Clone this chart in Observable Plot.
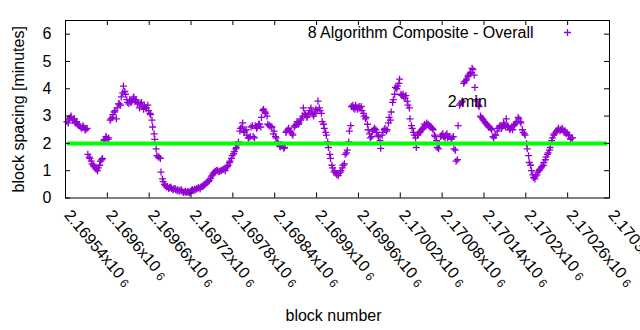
<!DOCTYPE html>
<html><head><meta charset="utf-8">
<script src="https://cdn.jsdelivr.net/npm/d3@7"></script>
<script src="https://cdn.jsdelivr.net/npm/@observablehq/plot@0.6"></script>
<style>
body{margin:0;background:#fff}
svg{font-family:"Liberation Sans",Arial,sans-serif}
</style>
</head><body><div id="chart"></div>
<script>
// ---- data ----
// block spacing, two interleaved readings of the point band
const blockStart = 2169542;
const blockStep = 3;
const spacingA = [
  2.8, 2.9, 3.0, 2.85, 2.75, 2.7, 2.65, 2.55, 2.6, 2.5,
  1.6, 1.45, 1.25, 1.15, 1.05, 1.1, 1.35, 1.45, 2.15, 2.2,
  2.2, 2.9, 3.05, 3.2, 3.3, 3.45, 3.7, 4.1, 3.8, 3.5,
  3.6, 3.55, 3.7, 3.6, 3.5, 3.45, 3.35, 3.4, 3.3, 3.2,
  3.05, 2.6, 2.15, 1.55, 1.5, 0.95, 0.6, 0.45, 0.42, 0.38,
  0.35, 0.33, 0.3, 0.3, 0.28, 0.25, 0.22, 0.2, 0.22, 0.25,
  0.3, 0.32, 0.35, 0.38, 0.4, 0.45, 0.5, 0.58, 0.65, 0.8,
  0.92, 0.98, 1.0, 0.98, 1.02, 1.05, 1.1, 1.2, 1.35, 1.55,
  1.7, 1.85, 2.05, 2.55, 2.75, 2.45, 2.3, 2.2, 2.6, 2.25,
  2.65, 2.6, 2.7, 2.95, 3.25, 3.1, 2.7, 2.65, 2.6, 2.45,
  2.2, 2.0, 1.88, 1.9, 1.85, 2.45, 2.55, 2.4, 2.3, 2.65,
  2.8, 2.75, 2.9, 3.3, 3.05, 3.0, 3.2, 3.15, 3.0, 3.25,
  3.55, 3.2, 2.8, 2.55, 2.3, 1.85, 1.45, 1.1, 1.0, 0.85,
  0.9, 1.0, 1.2, 1.6, 1.75, 2.45, 3.35, 3.3, 3.4, 3.25,
  3.3, 3.2, 3.0, 2.95, 2.5, 2.2, 2.45, 2.55, 2.4, 2.25,
  1.82, 2.4, 2.55, 2.5, 2.95, 3.15, 3.6, 4.05, 4.1, 4.35,
  3.75, 3.7, 3.75, 3.4, 2.9, 2.55, 2.3, 1.85, 2.35, 2.45,
  2.55, 2.7, 2.75, 2.65, 2.6, 2.5, 2.25, 1.85, 2.0, 2.3,
  2.25, 2.3, 2.2, 2.25, 2.2, 1.8, 1.35, 2.65, 3.45, 3.55,
  4.25, 4.35, 4.5, 4.6, 4.7, 4.05, 3.55, 3.35, 2.95, 2.85,
  2.75, 2.65, 2.6, 2.5, 2.2, 2.3, 2.55, 2.65, 2.6, 2.7,
  2.9, 2.6, 2.55, 2.5, 2.7, 2.8, 2.9, 2.75, 2.4, 2.3,
  1.8, 1.3, 1.0, 0.75, 0.8, 0.95, 1.05, 1.15, 1.3, 1.5,
  1.65, 1.85, 2.2, 2.35, 2.45, 2.55, 2.5, 2.5, 2.45, 2.4,
  2.3, 2.2
];
const spacingB = [
  2.75, 2.95, 2.85, 2.9, 2.8, 2.65, 2.6, 2.65, 2.5, 2.55,
  1.5, 1.35, 1.2, 1.1, 1.0, 1.2, 1.4, 2.1, 2.25, 2.15,
  2.85, 2.95, 3.15, 2.9, 3.45, 3.4, 3.85, 3.9, 3.6, 3.45,
  3.5, 3.65, 3.55, 3.45, 3.3, 3.5, 3.25, 3.3, 3.4, 3.1,
  2.85, 2.35, 1.8, 1.5, 1.45, 0.7, 0.5, 0.4, 0.35, 0.4,
  0.3, 0.35, 0.27, 0.25, 0.3, 0.2, 0.25, 0.23, 0.18, 0.28,
  0.27, 0.3, 0.36, 0.33, 0.42, 0.48, 0.55, 0.6, 0.72, 0.85,
  0.95, 1.02, 0.96, 1.0, 1.05, 1.0, 1.15, 1.3, 1.45, 1.62,
  1.8, 1.95, 2.45, 2.6, 2.4, 2.5, 2.2, 2.25, 2.65, 2.2,
  2.55, 2.7, 2.6, 3.2, 3.15, 3.0, 2.65, 2.6, 2.35, 2.25,
  2.05, 1.9, 1.95, 1.82, 2.4, 2.5, 2.45, 2.35, 2.6, 2.7,
  2.7, 2.85, 3.0, 3.1, 2.95, 3.1, 3.3, 3.05, 3.1, 3.2,
  3.3, 3.1, 2.7, 2.4, 2.05, 1.6, 1.2, 0.95, 0.9, 0.82,
  0.95, 1.1, 1.25, 1.65, 2.05, 2.65, 3.4, 3.25, 3.3, 3.35,
  3.35, 3.1, 2.9, 2.7, 2.35, 2.25, 2.5, 2.5, 2.3, 2.1,
  2.3, 2.5, 2.45, 2.75, 2.85, 3.5, 3.8, 4.0, 4.2, 3.8,
  3.8, 3.65, 3.55, 3.3, 2.65, 2.4, 2.2, 2.3, 2.4, 2.5,
  2.6, 2.65, 2.7, 2.6, 2.55, 2.3, 2.1, 1.8, 2.25, 2.35,
  2.2, 2.35, 2.25, 2.15, 2.25, 1.75, 1.4, 3.4, 3.5, 4.2,
  4.3, 4.45, 4.55, 4.75, 4.5, 3.6, 3.4, 3.0, 2.9, 2.8,
  2.7, 2.6, 2.55, 2.25, 2.3, 2.45, 2.6, 2.55, 2.75, 2.6,
  2.65, 2.5, 2.6, 2.65, 2.75, 2.95, 2.8, 2.5, 2.35, 2.0,
  1.55, 1.2, 0.85, 0.7, 0.85, 1.0, 1.1, 1.2, 1.4, 1.6,
  1.75, 2.1, 2.3, 2.4, 2.5, 2.45, 2.55, 2.4, 2.35, 2.3,
  2.15, 2.2
];
const bandOffsetB = 2;
const xTicks = [2169540, 2169600, 2169660, 2169720, 2169780, 2169840, 2169900,
  2169960, 2170020, 2170080, 2170140, 2170200, 2170260, 2170320];
const xTickLabels = ["2.16954", "2.1696", "2.16966", "2.16972", "2.16978", "2.16984", "2.1699",
  "2.16996", "2.17002", "2.17008", "2.17014", "2.1702", "2.17026", "2.17032"];
const xTickExponent = "6";
const yTicks = [0, 1, 2, 3, 4, 5, 6];
const yMax = 6.5;
const targetSpacing = 2;
const targetLabel = "2 min";
const targetLabelBlock = 2170088;
const targetLabelValue = 3.53;
const seriesName = "8 Algorithm Composite - Overall";
const xTitle = "block number";
const yTitle = "block spacing [minutes]";

// ---- build ----
const rows = [];
spacingA.forEach((v, i) => rows.push({block: blockStart + i * blockStep, spacing: v}));
spacingB.forEach((v, i) => rows.push({block: blockStart + bandOffsetB + i * blockStep, spacing: v}));
rows.sort((a, b) => a.block - b.block);

const plusSym = {draw(ctx, size) { const h = Math.sqrt(size / Math.PI);
  ctx.moveTo(-h, 0); ctx.lineTo(h, 0); ctx.moveTo(0, -h); ctx.lineTo(0, h); }};
const purple = "#9400d3";
const W = 640, H = 330, mL = 65, mR = 31, mT = 20, mB = 132.5;
const fw = W - mL - mR, fh = H - mT - mB, tl = 5;

const chart = Plot.plot({
  width: W, height: H,
  marginLeft: mL, marginRight: mR, marginTop: mT, marginBottom: mB,
  style: {fontFamily: '"Liberation Sans", Arial, sans-serif', fontSize: "16px", background: "white", color: "black", overflow: "visible"},
  x: {domain: [xTicks[0], xTicks[xTicks.length - 1]], axis: null},
  y: {domain: [0, yMax], axis: null},
  marks: [
    Plot.dot(rows, {x: "block", y: "spacing", symbol: plusSym, r: 3.5, stroke: purple, strokeWidth: 1.3, fill: "none"}),
    Plot.ruleY([targetSpacing], {stroke: "#00ff00", strokeWidth: 4, insetLeft: 2, insetRight: 2}),
    Plot.frame({stroke: "black", strokeWidth: 1}),
    Plot.tickX(xTicks, {x: d => d, insetTop: fh - tl, stroke: "black"}),
    Plot.tickX(xTicks, {x: d => d, insetBottom: fh - tl, stroke: "black"}),
    Plot.tickY(yTicks, {y: d => d, insetRight: fw - tl, stroke: "black"}),
    Plot.tickY(yTicks, {y: d => d, insetLeft: fw - tl, stroke: "black"}),
    Plot.text(yTicks, {y: d => d, text: d => String(d), frameAnchor: "left", dx: -14, textAnchor: "end", fontSize: 16, fill: "black"}),
    Plot.text(xTicks, {x: d => d, text: (d, i) => xTickLabels[i] + "x10", frameAnchor: "bottom", rotate: 50, textAnchor: "start", lineAnchor: "bottom", dy: 17.5, dx: -2, fontSize: 16, fill: "black"}),
    Plot.text([xTitle], {frameAnchor: "bottom", dy: 117.5, dx: -4, textAnchor: "middle", lineAnchor: "middle", fontSize: 16, fill: "black"}),
    Plot.text([yTitle], {frameAnchor: "left", rotate: -90, dx: -47, textAnchor: "middle", lineAnchor: "middle", fontSize: 16, fill: "black"}),
    Plot.text([seriesName], {frameAnchor: "top-right", dx: -76, dy: 12, textAnchor: "end", lineAnchor: "middle", fontSize: 16, fill: "black"}),
    Plot.dot([seriesName], {frameAnchor: "top-right", dx: -42, dy: 12, symbol: plusSym, r: 3.5, stroke: purple, strokeWidth: 1.3, fill: "none"}),
    Plot.text([targetLabel], {x: () => targetLabelBlock, y: () => targetLabelValue, textAnchor: "start", lineAnchor: "middle", fontSize: 16, fill: "black"})
  ]
});
d3.select(chart).selectAll("text").each(function() {
  const t = this.textContent;
  if (/x10$/.test(t)) {
    d3.select(this).append("tspan").attr("font-size", 12).attr("dx", 4).attr("dy", 1).text(xTickExponent);
  }
});
document.getElementById("chart").appendChild(chart);
</script>
</body></html>
